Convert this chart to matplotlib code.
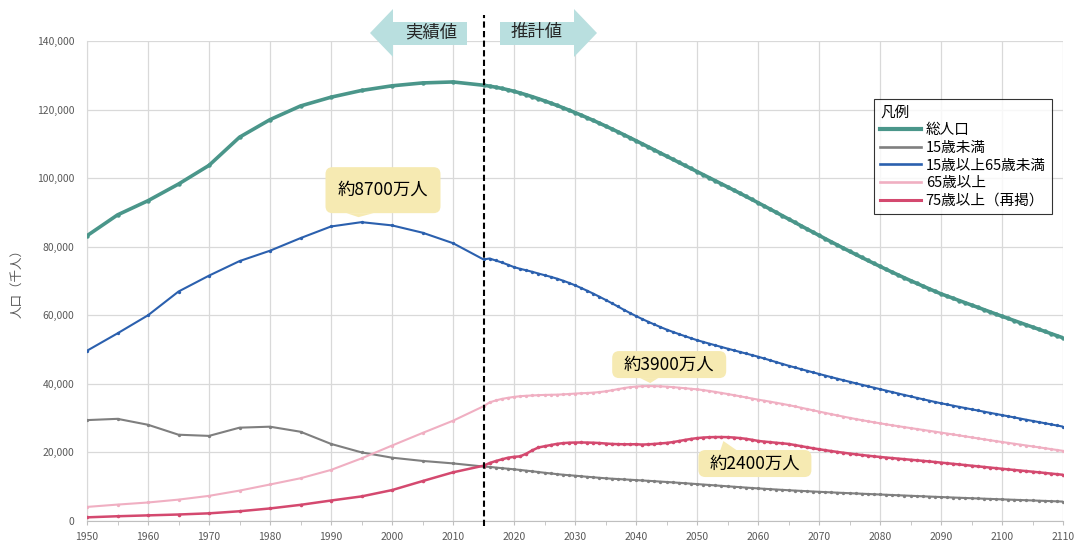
import numpy as np
import matplotlib
matplotlib.use("Agg")
import matplotlib.pyplot as plt
from matplotlib.patches import Polygon, FancyBboxPatch
from matplotlib.lines import Line2D
from matplotlib.transforms import IdentityTransform
from matplotlib.ticker import FuncFormatter, MultipleLocator

plt.rcParams['font.family'] = ['Noto Sans CJK JP', 'DejaVu Sans']

# years: census every 5 years, projection every year
years_actual = list(range(1950, 2016, 5))
years_proj = list(range(2016, 2111))

# population in thousands
total_actual = [83200, 89276, 93419, 98275, 103720, 111940, 117060, 121049, 123611, 125570,
                126926, 127768, 128057, 127095]
u15_actual = [29428, 29798, 28067, 25166, 24823, 27221, 27507, 26033, 22486, 20014,
              18472, 17521, 16803, 15887]
w15_64_actual = [49658, 54730, 60002, 66928, 71566, 75807, 78835, 82506, 85904, 87165,
                 86220, 84092, 81032, 76289]
o65_actual = [4109, 4786, 5398, 6236, 7331, 8865, 10647, 12468, 14895, 18261,
              22005, 25672, 29246, 33465]
o75_actual = [1069, 1388, 1642, 1894, 2237, 2841, 3660, 4712, 5973, 7170,
              9012, 11639, 14194, 16126]

total_proj = [126838, 126532, 126177, 125773, 125325, 124836, 124310, 123751, 123161, 122544,
              121903, 121240, 120555, 119850, 119125, 118380, 117616, 116833, 116033, 115216,
              114383, 113535, 112674, 111801, 110919, 110028, 109131, 108229, 107326, 106421,
              105518, 104616, 103716, 102819, 101923, 101029, 100135, 99240, 98342, 97441,
              96534, 95622, 94702, 93775, 92840, 91897, 90949, 89994, 89036, 88077,
              87118, 86160, 85204, 84252, 83305, 82364, 81429, 80501, 79581, 78670,
              77768, 76876, 75994, 75123, 74262, 73412, 72573, 71745, 70928, 70122,
              69327, 68543, 67770, 67007, 66255, 65600, 64945, 64290, 63637, 62985,
              62333, 61680, 61025, 60371, 59718, 59088, 58458, 57829, 57200, 56570,
              55940, 55311, 54682, 54052, 53423]
u15_proj = [15780, 15592, 15415, 15251, 15075, 14891, 14692, 14489, 14281, 14073,
            13871, 13681, 13507, 13351, 13212, 13054, 12899, 12748, 12601, 12457,
            12346, 12240, 12137, 12036, 11936, 11829, 11720, 11609, 11497, 11384,
            11263, 11141, 11018, 10893, 10767, 10637, 10508, 10379, 10251, 10123,
            9997, 9872, 9749, 9628, 9508, 9398, 9290, 9183, 9078, 8975,
            8880, 8786, 8694, 8604, 8516, 8430, 8346, 8264, 8184, 8106,
            8029, 7953, 7878, 7804, 7730, 7655, 7580, 7505, 7430, 7355,
            7280, 7206, 7132, 7059, 6987, 6916, 6846, 6777, 6709, 6642,
            6576, 6510, 6445, 6380, 6315, 6250, 6185, 6120, 6055, 5990,
            5925, 5860, 5795, 5730, 5665]
w15_64_proj = [76562, 75981, 75400, 74750, 74058, 73550, 73130, 72683, 72180, 71701,
               71231, 70709, 70120, 69465, 68754, 67970, 67160, 66310, 65420, 64500,
               63560, 62590, 61620, 60680, 59777, 58930, 58110, 57330, 56570, 55845,
               55180, 54540, 53930, 53330, 52750, 52240, 51740, 51250, 50760, 50276,
               49800, 49330, 48860, 48395, 47928, 47400, 46870, 46345, 45818, 45291,
               44800, 44315, 43835, 43360, 42890, 42425, 41965, 41510, 41060, 40615,
               40175, 39740, 39310, 38885, 38465, 38030, 37600, 37175, 36755, 36340,
               35930, 35525, 35125, 34730, 34340, 33985, 33630, 33280, 32930, 32585,
               32240, 31900, 31560, 31225, 30890, 30550, 30210, 29870, 29530, 29195,
               28860, 28525, 28190, 27860, 27530]
o65_proj = [34591, 35152, 35604, 35924, 36192, 36396, 36525, 36616, 36706, 36771,
            36812, 36850, 36928, 37034, 37160, 37257, 37335, 37448, 37603, 37817,
            38112, 38449, 38766, 39036, 39206, 39321, 39352, 39333, 39276, 39192,
            39058, 38899, 38728, 38567, 38406, 38189, 37932, 37649, 37348, 37042,
            36723, 36392, 36055, 35726, 35403, 35100, 34796, 34477, 34149, 33810,
            33440, 33060, 32680, 32300, 31920, 31540, 31165, 30800, 30440, 30090,
            29750, 29420, 29100, 28790, 28490, 28200, 27920, 27645, 27375, 27110,
            26845, 26580, 26315, 26050, 25785, 25510, 25235, 24955, 24675, 24395,
            24115, 23840, 23570, 23305, 23045, 22790, 22535, 22280, 22020, 21760,
            21500, 21240, 20980, 20720, 20460]
o75_proj = [16900, 17480, 17980, 18450, 18720, 18850, 19630, 20610, 21440, 21800,
            22150, 22480, 22700, 22830, 22884, 22900, 22880, 22830, 22740, 22597,
            22480, 22410, 22380, 22370, 22392, 22290, 22360, 22480, 22620, 22767,
            23000, 23310, 23640, 23930, 24170, 24340, 24440, 24480, 24490, 24454,
            24350, 24190, 23980, 23690, 23362, 23160, 22990, 22820, 22650, 22479,
            22170, 21850, 21530, 21220, 20930, 20660, 20400, 20150, 19910, 19680,
            19460, 19250, 19050, 18860, 18680, 18510, 18350, 18190, 18030, 17870,
            17710, 17550, 17380, 17210, 17030, 16850, 16670, 16490, 16310, 16130,
            15950, 15770, 15590, 15410, 15230, 15060, 14890, 14720, 14550, 14380,
            14200, 14020, 13840, 13660, 13480]

labels = ['総人口', '15歳未満', '15歳以上65歳未満', '65歳以上', '75歳以上（再掲）']
colors = ['#4A968A', '#7F7F7F', '#2B60AE', '#F0AFC2', '#D4496F']
widths = [2.6, 1.5, 1.5, 1.5, 1.8]
msizes = [3.2, 2.4, 2.4, 2.4, 2.6]

years = years_actual + years_proj
series = [total_actual + total_proj, u15_actual + u15_proj, w15_64_actual + w15_64_proj,
          o65_actual + o65_proj, o75_actual + o75_proj]

fig = plt.figure(figsize=(10.8, 5.42), dpi=100)
W, H = 1080, 542
ax = fig.add_axes([87 / W, 1 - 521 / H, 976 / W, 480 / H])

for vals, c, lw, ms, z in zip(series, colors, widths, msizes, [5, 3, 4, 3, 4]):
    ax.plot(years, vals, color=c, lw=lw, marker='o', ms=ms, mew=0, zorder=z)

ax.set_xlim(1950, 2110)
ax.set_ylim(0, 140000)
ax.set_xticks(range(1950, 2111, 10))
ax.xaxis.set_minor_locator(MultipleLocator(5))
ax.yaxis.set_major_locator(MultipleLocator(20000))
ax.yaxis.set_major_formatter(FuncFormatter(lambda v, p: f'{int(v):,}'))
ax.grid(True, which='major', color='#D9D9D9', lw=0.9)
ax.set_axisbelow(True)
for s in ['top', 'right']:
    ax.spines[s].set_visible(False)
ax.spines['left'].set_color('#D9D9D9')
ax.spines['bottom'].set_color('#BFBFBF')
ax.tick_params(axis='x', which='both', direction='out', length=3, color='#BFBFBF',
               labelsize=7.5, labelcolor='#595959', pad=5)
ax.tick_params(axis='y', length=0, labelsize=7.5, labelcolor='#595959', pad=9)
ax.set_ylabel('人口（千人）', fontsize=9, color='#595959', labelpad=10)

# boundary between actual and projected
ax.axvline(2015, ymin=-0.01, ymax=1.055, color='black', lw=1.5,
           linestyle=(0, (3, 1.6)), clip_on=False, zorder=6)


def px(x, y):
    return (x, H - y)


def arrow_box(points, text, tx, ty):
    poly = Polygon([px(x, y) for x, y in points], closed=True, fc='#B9DFDF', ec='none',
                   transform=IdentityTransform())
    fig.add_artist(poly)
    fig.text(*px(tx, ty), text, transform=IdentityTransform(), ha='center', va='center',
             fontsize=12.5, color='#262626')


arrow_box([(370, 33), (393, 9), (393, 22), (467, 22), (467, 45), (393, 45), (393, 57)],
          '実績値', 431, 32)
arrow_box([(597, 33), (574, 9), (574, 22), (500, 22), (500, 45), (574, 45), (574, 57)],
          '推計値', 537, 32)


def callout(x, y, text, box, tip, base):
    ax0, ay0 = ax.transData.transform((x, y))
    bx0, by0, bw, bh = box
    patch = FancyBboxPatch((ax0 + bx0, ay0 + by0), bw, bh,
                           boxstyle='round,pad=0,rounding_size=7', fc='#F6EAB2', ec='none',
                           transform=IdentityTransform(), zorder=7)
    fig.add_artist(patch)
    edge = by0 if tip[1] < by0 else by0 + bh
    tri = Polygon([(ax0 + base[0], ay0 + edge), (ax0 + base[1], ay0 + edge),
                   (ax0 + tip[0], ay0 + tip[1])], closed=True, fc='#F6EAB2', ec='none',
                  transform=IdentityTransform(), zorder=7)
    fig.add_artist(tri)
    fig.text(ax0 + bx0 + bw / 2, ay0 + by0 + bh / 2, text, transform=IdentityTransform(),
             ha='center', va='center', fontsize=12.5, color='black', zorder=8)


callout(1995, 87165, '約8700万人', (-36, 9, 115, 46), (-3, 5), (-15, 12))
callout(2042, 39352, '約3900万人', (-36, 8, 114, 27), (2, 3), (-8, 10))
callout(2054, 24490, '約2400万人', (-23, -40, 113, 27), (2, -4), (-1, 15))

handles = [Line2D([], [], color=c, lw=lw + 0.4) for c, lw in zip(colors, widths)]
leg = ax.legend(handles, labels, loc='upper right', bbox_to_anchor=(0.989, 0.879),
                title='凡例', alignment='left', frameon=True, fancybox=False,
                edgecolor='black', fontsize=10.5, title_fontsize=10.5, handlelength=2.8,
                handletextpad=0.3, labelspacing=0.25, borderpad=0.45, borderaxespad=0)
leg.get_frame().set_linewidth(0.8)
leg.set_zorder(10)

fig.savefig('out.png', dpi=100)
